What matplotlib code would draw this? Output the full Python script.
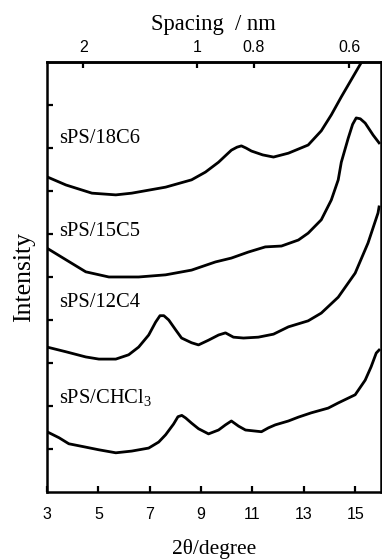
import numpy as np
import matplotlib
matplotlib.use("Agg")
import matplotlib.pyplot as plt

plt.rcParams['font.family'] = ['Liberation Serif', 'DejaVu Serif']
plt.rcParams['mathtext.fontset'] = 'custom'
plt.rcParams['mathtext.rm'] = 'Liberation Serif'
plt.rcParams['mathtext.default'] = 'rm'

# ---- data (2theta in degree, intensity in arbitrary offset units) ----
x_18c6 = [3.00, 3.74, 4.75, 5.68, 6.30, 7.62, 8.63, 9.17, 9.68, 10.00, 10.18, 10.40, 10.57, 10.75, 10.96, 11.40, 11.82, 12.40, 13.17, 13.68, 14.07, 14.46, 14.84, 15.23, 15.40]
y_18c6 = [7.33, 7.14, 6.95, 6.91, 6.95, 7.09, 7.26, 7.44, 7.67, 7.85, 7.95, 8.02, 8.05, 8.00, 7.93, 7.84, 7.79, 7.88, 8.07, 8.40, 8.77, 9.19, 9.58, 9.98, 10.15]

x_15c5 = [3.00, 3.74, 4.51, 5.41, 6.57, 7.62, 8.63, 9.56, 10.18, 10.84, 11.50, 12.13, 12.79, 13.17, 13.68, 14.07, 14.34, 14.46, 14.73, 14.90, 15.04, 15.20, 15.39, 15.70, 15.93]
y_15c5 = [5.67, 5.40, 5.12, 5.00, 5.00, 5.05, 5.16, 5.35, 5.44, 5.58, 5.70, 5.72, 5.86, 6.02, 6.33, 6.79, 7.26, 7.67, 8.23, 8.55, 8.70, 8.68, 8.58, 8.30, 8.12]

x_12c4 = [3.00, 3.74, 4.51, 5.02, 5.68, 6.18, 6.57, 6.96, 7.23, 7.40, 7.55, 7.74, 8.01, 8.24, 8.63, 8.90, 9.29, 9.68, 9.95, 10.26, 10.65, 11.23, 11.82, 12.40, 13.17, 13.68, 14.34, 15.00, 15.50, 15.89, 15.93]
y_12c4 = [3.37, 3.26, 3.14, 3.09, 3.09, 3.19, 3.37, 3.65, 3.95, 4.10, 4.10, 4.00, 3.77, 3.58, 3.47, 3.42, 3.53, 3.65, 3.70, 3.60, 3.58, 3.60, 3.67, 3.84, 3.98, 4.16, 4.53, 5.09, 5.79, 6.49, 6.63]

x_chcl3 = [3.00, 3.47, 3.85, 4.44, 5.02, 5.68, 6.30, 6.96, 7.35, 7.62, 7.93, 8.10, 8.25, 8.40, 8.63, 8.90, 9.29, 9.68, 9.95, 10.18, 10.46, 10.73, 11.04, 11.35, 11.62, 11.89, 12.40, 12.79, 13.29, 13.95, 14.34, 15.00, 15.39, 15.62, 15.82, 15.93]
y_chcl3 = [1.40, 1.26, 1.12, 1.05, 0.98, 0.91, 0.95, 1.02, 1.16, 1.33, 1.58, 1.75, 1.78, 1.72, 1.60, 1.47, 1.35, 1.44, 1.56, 1.65, 1.53, 1.44, 1.42, 1.40, 1.49, 1.56, 1.65, 1.74, 1.84, 1.95, 2.07, 2.26, 2.60, 2.91, 3.23, 3.30]

labels = ['sPS/18C6', 'sPS/15C5', 'sPS/12C4', 'sPS/CHCl$_3$']
label_y = [8.23, 6.05, 4.40, 2.19]

xticks = [3, 5, 7, 9, 11, 13, 15]
top_ticks = [2, 1, 0.8, 0.6]
wavelength = 0.15418  # nm, Cu K-alpha

fig = plt.figure(figsize=(3.82, 5.59), dpi=100)
ax = fig.add_axes([0.123, 0.120, 0.874, 0.769])

series = [(x_18c6, y_18c6), (x_15c5, y_15c5), (x_12c4, y_12c4), (x_chcl3, y_chcl3)]
for (xs, ys) in series:
    ax.plot(xs, ys, color='black', lw=2.0, solid_joinstyle='round')

for lab, ly in zip(labels, label_y):
    ax.text(3.47, ly, lab, fontsize=14.8, ha='left', va='center')

ax.set_xlim(3, 16)
ax.set_ylim(0, 10)
ax.set_xticks(xticks)
ax.set_yticks(np.arange(1, 10))
ax.set_yticklabels([])
for lbl in ax.get_xticklabels():
    lbl.set_family(['Liberation Sans', 'DejaVu Sans'])
ax.tick_params(axis='x', direction='in', length=4, width=1.6, labelsize=11.5, pad=11)
ax.tick_params(axis='y', direction='in', length=4, width=1.6)
for sp in ax.spines.values():
    sp.set_linewidth(1.8)

ax.set_xlabel('2θ/degree', fontsize=15.4, labelpad=12)
ax.set_ylabel('Intensity', fontsize=18.5, labelpad=5)


def fwd(x):
    x = np.clip(np.asarray(x, dtype=float), 0.5, 179)
    return wavelength / (2 * np.sin(np.radians(x / 2)))


def inv(d):
    d = np.clip(np.asarray(d, dtype=float), wavelength / 2 + 1e-6, None)
    return 2 * np.degrees(np.arcsin(wavelength / (2 * d)))


sec = ax.secondary_xaxis('top', functions=(fwd, inv))
sec.set_xticks(top_ticks)
sec.set_xticklabels(['2', '1', '0.8', '0.6'])
sec.minorticks_off()
sec.tick_params(direction='in', length=4, width=1.6, labelsize=11.5, pad=5)
for lbl in sec.get_xticklabels():
    lbl.set_family(['Liberation Sans', 'DejaVu Sans'])
sec.set_xlabel('Spacing  / nm', fontsize=16.3, labelpad=7)
sec.spines['top'].set_linewidth(1.8)

fig.savefig('out.png', dpi=100)
